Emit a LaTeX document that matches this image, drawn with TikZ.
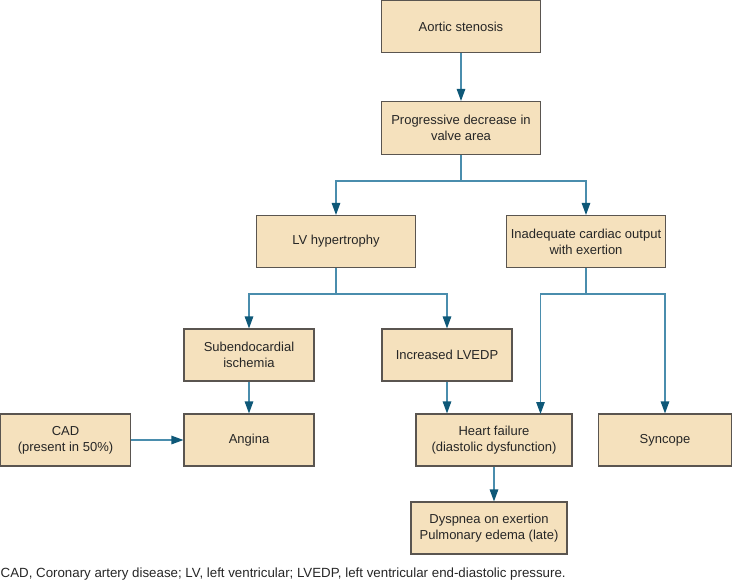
\documentclass[tikz,border=0pt]{standalone}
\usepackage{fontspec}
\setmainfont{Liberation Sans}
\usetikzlibrary{arrows.meta,calc}
\definecolor{boxfill}{HTML}{F5E1BD}
\definecolor{boxline}{HTML}{5A5550}
\definecolor{conn}{HTML}{4A8DAD}
\definecolor{tip}{HTML}{0E5878}
\begin{document}
\begin{tikzpicture}[x=1pt,y=-1pt,
  box/.style={draw=boxline,fill=boxfill,line width=1.1pt,rectangle,inner sep=0pt,
    align=center,font=\fontsize{13}{16}\selectfont,text=black!85},
  arr/.style={draw=conn,line width=1.2pt,-{Triangle[length=12pt,width=8.5pt,color=tip]}},
  ln/.style={draw=conn,line width=1.2pt}]
\useasboundingbox (0,0) rectangle (732,582);
\node[box,minimum width=159,minimum height=51.5] (aor) at (461,26.5) {Aortic stenosis};
\node[box,minimum width=159,minimum height=53] (prog) at (461,128) {Progressive decrease in\\valve area};
\node[box,minimum width=159,minimum height=52] (lvh) at (336,241.5) {LV hypertrophy};
\node[box,minimum width=159,minimum height=52] (ica) at (586,241.5) {Inadequate cardiac output\\with exertion};
\node[box,minimum width=130,minimum height=52] (sub) at (249,355) {Subendocardial\\ischemia};
\node[box,minimum width=130,minimum height=52] (lvedp) at (447,355) {Increased LVEDP};
\node[box,minimum width=130,minimum height=52] (cad) at (65.5,440) {CAD\\(present in 50\%)};
\node[box,minimum width=130,minimum height=52] (ang) at (249,440) {Angina};
\node[box,minimum width=156,minimum height=52] (hf) at (494,440) {Heart failure\\(diastolic dysfunction)};
\node[box,minimum width=133,minimum height=52] (syn) at (665,440) {Syncope};
\node[box,minimum width=156,minimum height=52] (dys) at (489,528) {Dyspnea on exertion\\Pulmonary edema (late)};
\node[anchor=base west,inner sep=0pt,font=\fontsize{13.3}{16}\selectfont,text=black!85] (cap) at (0.5,577.5)
  {CAD, Coronary artery disease; LV, left ventricular; LVEDP, left ventricular end-diastolic pressure.};
\coordinate (j1) at (461,181);
\coordinate (j2) at (336,294);
\coordinate (j3) at (586,294);
\coordinate (hfr) at (540.5,414);
\draw[arr] (aor.south) -- (prog.north);
\draw[ln] (prog.south) -- (j1);
\draw[arr] (j1) -| (lvh.north);
\draw[arr] (j1) -| (ica.north);
\draw[ln] (lvh.south) -- (j2);
\draw[arr] (j2) -| (sub.north);
\draw[arr] (j2) -| (lvedp.north);
\draw[ln] (ica.south) -- (j3);
\draw[arr] (j3) -| (hfr);
\draw[arr] (j3) -| (syn.north);
\draw[arr] (sub.south) -- (ang.north);
\draw[arr] (lvedp.south) -- (lvedp.south |- hf.north);
\draw[arr] (cad.east) -- (ang.west);
\draw[arr] (hf.south) -- (hf.south |- dys.north);
\end{tikzpicture}
\end{document}
